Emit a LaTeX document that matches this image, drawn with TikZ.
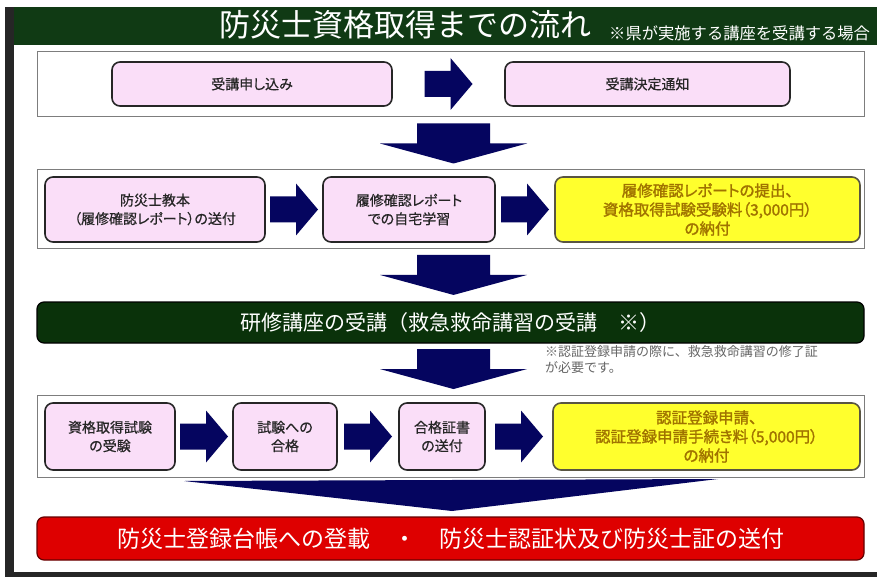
\documentclass[tikz,border=0pt]{standalone}
\usepackage{fontspec}
\usetikzlibrary{calc}
\newfontfamily\jp{Noto Sans CJK JP}
\newfontfamily\jpp[RawFeature=+palt, FakeBold=0.6]{Noto Sans CJK JP}
\newfontfamily\jpbold[RawFeature=+palt, FakeBold=1.6]{Noto Sans CJK JP}

\definecolor{titlegreen}{RGB}{16,58,20}
\definecolor{bargreen}{RGB}{10,50,10}
\definecolor{pinkfill}{RGB}{250,222,248}
\definecolor{yellowfill}{RGB}{255,255,45}
\definecolor{yellowtext}{RGB}{160,115,0}
\definecolor{navyblk}{RGB}{5,5,95}
\definecolor{redbar}{RGB}{222,0,0}
\definecolor{framegray}{RGB}{125,125,125}

% block arrow between two nodes, fixed length, centred in the gap
\newcommand{\rightblock}[2]{%
	\fill[blockarrow] let \p1=(#1.east), \p2=(#2.west), \n1={(\x1+\x2)/2} in
		(\n1-24pt,\y1+13pt) -- (\n1+2pt,\y1+13pt) -- (\n1+2pt,\y1+26pt) -- (\n1+24pt,\y1)
		-- (\n1+2pt,\y1-26pt) -- (\n1+2pt,\y1-13pt) -- (\n1-24pt,\y1-13pt) -- cycle;}
\newcommand{\downblock}[2]{%
	\fill[blockarrow] let \p1=([xshift=3pt]#1.south), \p2=(#2.north), \n1={(\y1+\y2)/2} in
		(\x1-36.5pt,\n1+20pt) -- (\x1+36.5pt,\n1+20pt) -- (\x1+36.5pt,\n1) -- (\x1+73.5pt,\n1)
		-- (\x1,\n1-20pt) -- (\x1-73.5pt,\n1) -- (\x1-36.5pt,\n1) -- cycle;}

\begin{document}
\begin{tikzpicture}[x=1pt,y=-1pt]
	\tikzstyle{outer} = [
		rectangle, draw=framegray, line width=1pt, fill=white, minimum width=827pt
	]
	\tikzstyle{pinkbox} = [
		rectangle, rounded corners=8pt, draw=black!85, line width=1.6pt, fill=pinkfill,
		align=center, text=black!85, font=\jpp\fontsize{14}{18.5}\selectfont
	]
	\tikzstyle{yellowbox} = [
		pinkbox, fill=yellowfill, draw=black!75!yellow, text=yellowtext,
		font=\jpbold\fontsize{15.5}{19}\selectfont
	]
	\tikzstyle{bar} = [
		rectangle, rounded corners=7pt, line width=1.2pt, text=white, minimum width=827pt
	]
	\tikzstyle{blockarrow} = [
		fill=navyblk
	]

	% page
	\useasboundingbox (0,0) rectangle (877,577);
	\fill[white] (0,0) rectangle (877,577);
	\fill[black!85] (5,7) rectangle (14,577);
	\fill[black!85] (5,572) rectangle (877,577);

	% Title
	\fill[titlegreen] (14,7) rectangle (877,45);
	\node (Title) [text=white, font=\jp\fontsize{31}{31}\selectfont] at (405,25) {防災士資格取得までの流れ};
	\node (TitleNote) [text=white, font=\jp\fontsize{16.3}{17}\selectfont, anchor=base west, inner sep=0pt] at (609,40) {※県が実施する講座を受講する場合};

	% Row 1
	\node (Row1) [outer, minimum height=65pt] at (450.5,84.5) {};
	\node (Apply) [pinkbox, minimum width=280pt, minimum height=44pt] at (252,84) {受講申し込み};
	\node (Notice) [pinkbox, minimum width=285pt, minimum height=44pt] at (647.5,84) {受講決定通知};
	\rightblock{Apply}{Notice}

	% Row 2
	\node (Row2) [outer, minimum height=78pt] at (450.5,209) {};
	\node (Textbook) [pinkbox, minimum width=220pt, minimum height=65pt] at (155,209.5) {防災士教本\\（履修確認レポート）の送付};
	\node (Study) [pinkbox, minimum width=172pt, minimum height=65pt] at (409,209.5) {履修確認レポート\\での自宅学習};
	\node (ExamFee) [yellowbox, minimum width=305pt, minimum height=65pt] at (707.5,209.5) {履修確認レポートの提出、\\資格取得試験受験料（3,000円）\\の納付};
	\rightblock{Textbook}{Study}
	\rightblock{Study}{ExamFee}

	% Course
	\node (Course) [bar, fill=bargreen, draw=black, minimum height=41pt, font=\jp\fontsize{21}{21}\selectfont] at (450.5,322.5) {研修講座の受講（救急救命講習の受講　※）};
	\node (CourseNote) [anchor=north west, align=left, text=black!60, inner sep=0pt, font=\jp\fontsize{13}{16}\selectfont] at (545,345) {※認証登録申請の際に、救急救命講習の修了証\\が必要です。};

	% Row 3
	\node (Row3) [outer, minimum height=82pt] at (450.5,436) {};
	\node (Exam) [pinkbox, minimum width=130pt, minimum height=67pt] at (110,436.5) {資格取得試験\\の受験};
	\node (Pass) [pinkbox, minimum width=104pt, minimum height=67pt] at (285,436.5) {試験への\\合格};
	\node (Cert) [pinkbox, minimum width=86pt, minimum height=67pt] at (442,436.5) {合格証書\\の送付};
	\node (RegFee) [yellowbox, minimum width=307pt, minimum height=67pt] at (706.5,436.5) {認証登録申請、\\認証登録申請手続き料（5,000円）\\の納付};
	\rightblock{Exam}{Pass}
	\rightblock{Pass}{Cert}
	\rightblock{Cert}{RegFee}

	% Register
	\node (Register) [bar, fill=redbar, draw=black!60!red, minimum height=43pt, font=\jp\fontsize{23}{23}\selectfont] at (450.5,538.5) {防災士登録台帳への登載　・　防災士認証状及び防災士証の送付};

	% down arrows
	\downblock{Row1}{Row2}
	\downblock{Row2}{Course}
	\downblock{Course}{Row3}
	\fill[blockarrow] (184,481) -- (718,479) -- (452,511) -- cycle;
\end{tikzpicture}
\end{document}
